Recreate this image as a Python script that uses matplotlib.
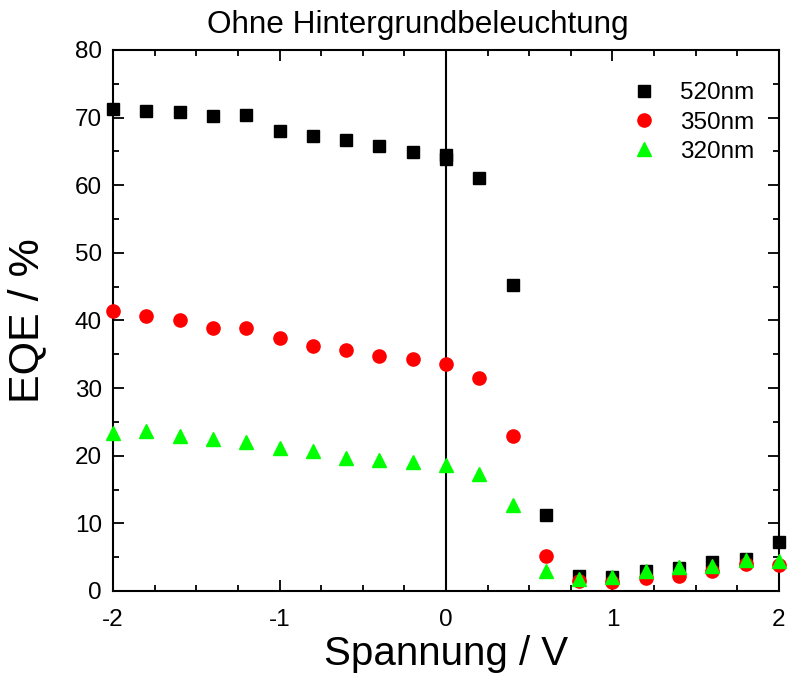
import numpy as np
import matplotlib.pyplot as plt

plt.rcParams['font.family'] = ['Liberation Sans', 'DejaVu Sans']
plt.rcParams['axes.unicode_minus'] = False

# Spannung in V
voltage = [-2.0, -1.8, -1.6, -1.4, -1.2, -1.0, -0.8, -0.6, -0.4, -0.2, 0.0,
           0.2, 0.4, 0.6, 0.8, 1.0, 1.2, 1.4, 1.6, 1.8, 2.0]
voltage_520 = [-2.0, -1.8, -1.6, -1.4, -1.2, -1.0, -0.8, -0.6, -0.4, -0.2, 0.0, 0.0,
               0.2, 0.4, 0.6, 0.8, 1.0, 1.2, 1.4, 1.6, 1.8, 2.0]

# EQE in %
eqe_520 = [71.2, 71.0, 70.8, 70.3, 70.4, 68.0, 67.2, 66.7, 65.8, 64.9, 64.5, 63.8,
           61.0, 45.3, 11.2, 2.2, 2.0, 2.9, 3.4, 4.3, 4.7, 7.2]
eqe_350 = [41.4, 40.6, 40.1, 38.9, 38.9, 37.4, 36.2, 35.6, 34.7, 34.3, 33.5,
           31.5, 22.9, 5.1, 1.5, 1.4, 1.9, 2.2, 2.9, 4.0, 3.8]
eqe_320 = [23.3, 23.7, 22.9, 22.5, 22.1, 21.1, 20.7, 19.6, 19.4, 19.1, 18.6,
           17.3, 12.7, 2.9, 1.7, 2.0, 2.9, 3.5, 3.7, 4.6, 4.4]

fig = plt.figure(figsize=(7.87, 6.84), dpi=100)
ax = fig.add_axes([0.1436, 0.136, 0.8462, 0.791])

ax.axvline(0, color='black', lw=1.5, zorder=1)

ax.plot(voltage_520, eqe_520, 's', color='black', ms=8, label='520nm', zorder=3, clip_on=False)
ax.plot(voltage, eqe_350, 'o', color='red', ms=9.5, label='350nm', zorder=3, clip_on=False)
ax.plot(voltage, eqe_320, '^', color='#00ff00', ms=10, label='320nm', zorder=4, clip_on=False)

ax.set_xlim(-2, 2)
ax.set_ylim(0, 80)
ax.set_xticks([-2, -1, 0, 1, 2])
ax.set_xticks(np.arange(-2, 2.01, 0.25), minor=True)
ax.set_yticks(range(0, 81, 10))
ax.set_yticks(range(0, 81, 5), minor=True)

ax.tick_params(which='both', direction='in', top=True, right=True, width=1.3, labelsize=17.5)
ax.tick_params(which='major', length=8)
ax.tick_params(which='minor', length=4)
ax.tick_params(axis='x', pad=13)
ax.tick_params(axis='y', pad=8)
for s in ax.spines.values():
    s.set_linewidth(1.5)

ax.set_xlabel('Spannung / V', fontsize=29, labelpad=3)
ax.set_ylabel('EQE / %', fontsize=31, labelpad=20)
ax.set_title('Ohne Hintergrundbeleuchtung', fontsize=22.7, pad=12, x=0.458)

ax.legend(loc='upper right', frameon=False, fontsize=17.5, handletextpad=0.5,
          labelspacing=0.3, borderaxespad=0.6, bbox_to_anchor=(1.0, 0.985))

fig.savefig('out.png', dpi=100)
